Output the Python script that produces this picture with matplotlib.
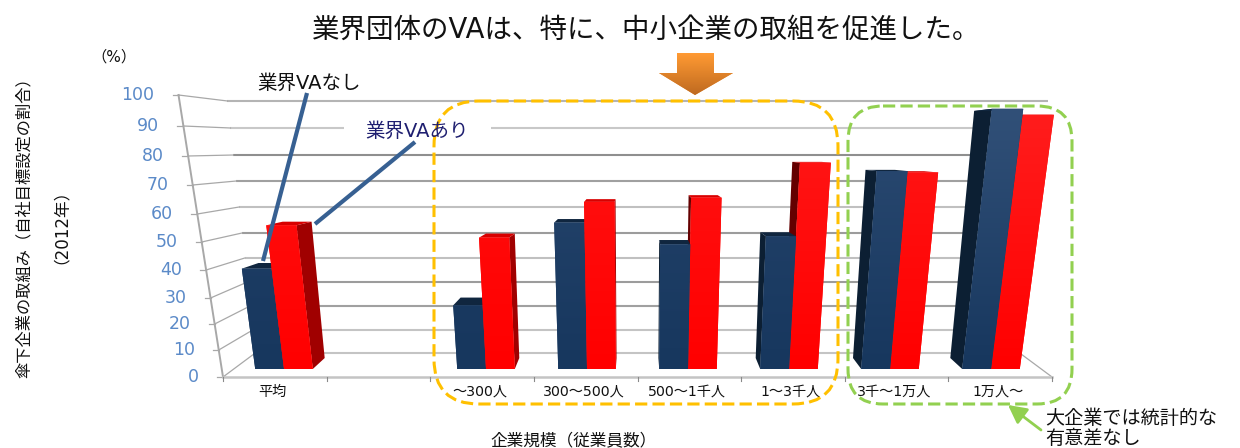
import numpy as np
import matplotlib
matplotlib.use("Agg")
import matplotlib.pyplot as plt
from matplotlib.colors import to_rgb
from matplotlib.patches import FancyBboxPatch, Polygon, FancyArrowPatch
from matplotlib.path import Path
from matplotlib.transforms import Transform

plt.rcParams['font.family'] = ['DejaVu Sans', 'Noto Sans CJK JP']

# ---- data ----
categories = ['平均', '', '〜300人', '300〜500人', '500〜1千人', '1〜3千人', '3千〜1万人', '1万人〜']
no_va = [39, np.nan, 25, 56, 48, 51, 74.5, 96]
with_va = [55, np.nan, 50.5, 63.5, 65, 77.5, 74, 94]
y_ticks = [0, 10, 20, 30, 40, 50, 60, 70, 80, 90, 100]
title = '業界団体のVAは、特に、中小企業の取組を促進した。'
ylabel1 = '傘下企業の取組み（自社目標設定の割合）'
ylabel2 = '（2012年）'
xlabel = '企業規模（従業員数）'

# projection of the 3-D chart box
front_y = [377, 350, 324, 298, 270, 242, 214, 185, 156, 126, 95]
back_y = [353, 330, 306, 282, 258, 233, 207, 181, 155, 128, 101]
grid_col = ['#c4c4c4', '#c4c4c4', '#a0a0a0', '#9c9c9c', '#c0c0c0', '#9c9c9c',
            '#c0c0c0', '#a0a0a0', '#8f8f8f', '#c8c8c8', '#b4b4b4']
XC = 637.0


class Persp(Transform):
    input_dims = output_dims = 2
    is_separable = False
    has_inverse = False

    def __init__(self, depth):
        super().__init__()
        self.t = depth

    def transform_non_affine(self, values):
        v = np.asarray(values, float)
        t = self.t
        y = np.interp(v[:, 1], y_ticks, front_y) * (1 - t) + np.interp(v[:, 1], y_ticks, back_y) * t
        k = 3.8e-4 - 0.9e-4 * t
        s = (1 + k * (369 - y)) * (1 - 0.0874 * (t - 1 / 3))
        x = XC + ((284 + 101 * v[:, 0]) - XC) * s
        return np.column_stack([x, y])


fig = plt.figure(figsize=(12.4, 4.48), dpi=100)
ax = fig.add_axes([0, 0, 1, 1])
ax.set_xlim(0, 1240)
ax.set_ylim(448, 0)
ax.set_autoscale_on(False)
ax.axis('off')

P_front, P_back = Persp(0.0), Persp(1.0)
P_b0, P_b1 = Persp(1 / 3), Persp(0.79)
GL, GR = -0.5, 7.5


def px(P, x, v):
    return P.transform(np.array([[x, v]], float))[0]


# walls and gridlines
for v, c in zip(y_ticks, grid_col):
    ax.plot(*zip(px(P_back, GL, v), px(P_back, GR, v)), color=c, lw=1.5, zorder=1, solid_capstyle='butt')
    ax.plot(*zip(px(P_front, GL, v), px(P_back, GL, v)), color='#a8a8a8', lw=0.9, zorder=1)
    a = px(P_front, GL, v)
    ax.plot([a[0] - 6, a[0]], [a[1], a[1]], color='#a8a8a8', lw=0.9, zorder=1)
    ax.text(a[0] - 24, a[1], str(v), color='#5b8ac8', fontsize=12.5, ha='right', va='center', zorder=2)
ax.plot(*zip(px(P_front, GL, 0), px(P_front, GL, 100)), color='#a8a8a8', lw=1.4, zorder=1)
ax.plot(*zip(px(P_front, GR, 0), px(P_back, GR, 0)), color='#a8a8a8', lw=0.9, zorder=1)
ax.plot(*zip(px(P_front, GL, 0), px(P_front, GR, 0)), color='#c4c4c4', lw=1.8, zorder=1)
for e in np.arange(GL, GR + 0.5):
    a = px(P_front, e, 0)
    ax.plot([a[0], a[0]], [a[1], a[1] + 4], color='#8a8a8a', lw=0.8, zorder=1)
for i, c in enumerate(categories):
    a = px(P_front, i, 0)
    ax.text(a[0] - 2, 392, c, fontsize=10.2, ha='center', va='center', color='#111111', zorder=5)

# white box that hides part of the 90 line
ax.fill([344, 491, 491, 344], [118, 118, 138, 138], color='white', zorder=2, lw=0)

zc = [10]


def nz():
    zc[0] += 1
    return zc[0]


def bar3d(x0, width, value, c_low, c_high, c_side, c_top):
    x1 = x0 + width
    xs = x1 if (x0 + x1) / 2 < 3.5 else x0
    ax.add_patch(Polygon([px(P_b0, xs, 0), px(P_b0, xs, value), px(P_b1, xs, value), px(P_b1, xs, 0)],
                         fc=c_side, ec='none', zorder=nz()))
    ax.add_patch(Polygon([px(P_b0, x0, value), px(P_b0, x1, value), px(P_b1, x1, value), px(P_b1, x0, value)],
                         fc=c_top, ec='none', zorder=nz()))
    trans = P_b0 + ax.transData
    ax.bar(x0, value, width, align='edge', color=c_low, lw=0, transform=trans, zorder=nz())
    low, high = np.array(to_rgb(c_low)), np.array(to_rgb(c_high))
    f = np.linspace((value / 100) ** 2, 0, 32)[:, None, None]
    grad = low[None, None, :] * (1 - f) + high[None, None, :] * f
    xa = min(px(P_b0, x0, 0)[0], px(P_b0, x0, value)[0])
    xb = max(px(P_b0, x1, 0)[0], px(P_b0, x1, value)[0])
    im = ax.imshow(grad, extent=[xa, xb, px(P_b0, x0, 0)[1], px(P_b0, x0, value)[1]],
                   aspect='auto', zorder=nz(), interpolation='bilinear')
    im.set_clip_path(Path([(x0, 0), (x1, 0), (x1, value), (x0, value), (x0, 0)], closed=True), trans)


W = 0.285
for i in range(len(categories)):
    if np.isnan(no_va[i]):
        continue
    navy = (i - W, W, no_va[i], '#17375e', '#33527a', '#0c1f33', '#10263f')
    red = (i, W, with_va[i], '#ff0000', '#ff2020', '#a00000' if i < 4 else '#640000', '#d80000')
    order = [navy, red] if i < 4 else [red, navy]
    for b in order:
        bar3d(*b)

# dashed highlight boxes
for (x, y, w, h, r, col) in [(434, 101, 404, 303, 45, '#ffc000'), (848, 106, 224, 298, 35, '#92d050')]:
    ax.add_patch(FancyBboxPatch((x, y), w, h, boxstyle=f'round,pad=0,rounding_size={r}', fc='none',
                                ec=col, lw=2.2, ls=(0, (4, 1.7)), zorder=500))

# orange arrow
arrow = Polygon([(677, 53), (714, 53), (714, 73), (733, 73), (695, 95), (659, 73), (677, 73)],
                fc='#e88a2c', ec='none', zorder=501)
ax.add_patch(arrow)
top_c, bot_c = np.array(to_rgb('#ff9a33')), np.array(to_rgb('#bf6a20'))
f = np.linspace(0, 1, 32)[:, None, None]
im = ax.imshow(top_c[None, None, :] * (1 - f) + bot_c[None, None, :] * f, extent=[659, 733, 95, 53],
               aspect='auto', zorder=502, interpolation='bilinear')
im.set_clip_path(arrow)

# callouts
ax.plot([307, 263], [93, 261], color='#376092', lw=3, zorder=510, solid_capstyle='butt')
ax.plot([415, 315], [142, 224], color='#376092', lw=3, zorder=510, solid_capstyle='butt')
ax.text(309.5, 83, '業界VAなし', fontsize=14, ha='center', va='center', color='#111111', zorder=511)
ax.text(417, 131, '業界VAあり', fontsize=14, ha='center', va='center', color='#1f1f70', zorder=511)
ax.add_patch(FancyArrowPatch((1041, 430), (1008, 405), arrowstyle='-|>,head_length=5,head_width=2.6',
                             color='#92d050', lw=2, shrinkA=0, shrinkB=0, mutation_scale=2.2, zorder=511))
ax.text(1045, 418.5, '大企業では統計的な', fontsize=13.8, ha='left', va='center', color='#111111', zorder=511)
ax.text(1045, 438, '有意差なし', fontsize=13.8, ha='left', va='center', color='#111111', zorder=511)

# titles
ax.text(646, 30, title, fontsize=19.8, ha='center', va='center', color='#111111', zorder=511)
ax.text(114, 57, '（%）', fontsize=11, ha='center', va='center', color='#111111', zorder=511)
ax.text(24, 224, ylabel1, fontsize=11.7, rotation=90, ha='center', va='center', color='#111111', zorder=511)
ax.text(52, 218, ylabel2, fontsize=12, rotation=90, ha='center', va='center', color='#111111', zorder=511)
ax.text(573.5, 441, xlabel, fontsize=12, ha='center', va='center', color='#111111', zorder=511)

fig.savefig('out.png', dpi=100)
